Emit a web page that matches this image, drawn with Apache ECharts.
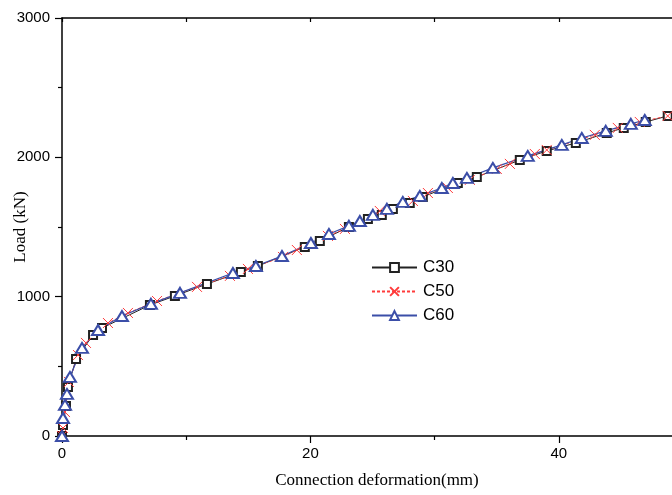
<!DOCTYPE html>
<html>
<head>
<meta charset="utf-8">
<script src="https://cdn.jsdelivr.net/npm/echarts@6/dist/echarts.min.js"></script>
<style>
  html, body { margin: 0; padding: 0; background: #fff; }
  #chart { width: 672px; height: 495px; }
</style>
</head>
<body>
<div id="chart"></div>
<script>
// Load–slip curves of the connection for three concrete grades
const seriesNames = ['C30', 'C50', 'C60'];

// [deformation (mm), load (kN)]
const c30 = [
  [0, 0], [0.08, 79], [0.32, 215], [0.48, 352], [1.13, 553], [2.5, 725], [3.22, 775],
  [7.08, 940], [9.09, 1005], [11.67, 1091], [14.4, 1177], [15.77, 1220], [19.55, 1357],
  [20.76, 1400], [23.1, 1500], [24.63, 1558], [25.75, 1586], [26.64, 1630], [28.0, 1673],
  [29.05, 1716], [31.87, 1816], [33.4, 1859], [36.86, 1981], [39.03, 2046], [41.37, 2103],
  [43.86, 2175], [45.23, 2211], [47.0, 2254], [48.77, 2297]
];
const c50 = [
  [0, 0], [0.08, 57], [0.24, 172], [0.56, 388], [1.29, 581], [1.93, 668], [3.7, 811],
  [5.31, 883], [7.65, 969], [10.87, 1070], [13.52, 1149], [14.97, 1199], [17.79, 1285],
  [18.91, 1335], [21.41, 1436], [22.78, 1486], [25.59, 1615], [28.25, 1687], [29.46, 1744],
  [31.07, 1780], [32.84, 1838], [35.01, 1917], [36.06, 1953], [38.07, 2024], [39.03, 2053],
  [42.9, 2161], [44.75, 2211], [46.52, 2254], [48.77, 2297]
];
const c60 = [
  [0, 0], [0.08, 129], [0.24, 223], [0.4, 302], [0.64, 424], [1.61, 632], [2.9, 761],
  [4.83, 861], [7.16, 948], [9.5, 1027], [13.76, 1170], [15.61, 1220], [17.71, 1292],
  [20.04, 1385], [21.49, 1450], [23.1, 1508], [23.98, 1543], [25.03, 1587], [26.16, 1630],
  [27.44, 1680], [28.81, 1723], [30.58, 1780], [31.47, 1816], [32.6, 1852], [34.69, 1924],
  [37.5, 2010], [40.24, 2089], [41.85, 2139], [43.78, 2190], [45.8, 2240], [46.92, 2268]
];

const xTitle = 'Connection deformation(mm)';
const yTitle = 'Load (kN)';

const sans = 'Liberation Sans, Arial, sans-serif';
const serif = 'Liberation Serif, Times New Roman, serif';
const crossPath = 'path://M0,0L10,10M10,0L0,10';
const plain = v => String(v);

const chart = echarts.init(document.getElementById('chart'), null, { renderer: 'canvas' });

chart.setOption({
  animation: false,
  backgroundColor: '#fff',
  grid: { left: 62, top: 18, bottom: 59, right: -11, containLabel: false, outerBoundsMode: 'none' },
  legend: {
    orient: 'vertical',
    left: 366,
    top: 254,
    itemWidth: 45,
    itemHeight: 11,
    itemGap: 7,
    textStyle: { fontFamily: sans, fontSize: 17, color: '#000', padding: [0, 0, 0, 1] },
    data: seriesNames
  },
  xAxis: [
    {
      type: 'value', position: 'bottom', min: 0, max: 50, interval: 20,
      name: xTitle, nameLocation: 'middle', nameGap: 36, nameMoveOverlap: false,
      nameTextStyle: { fontFamily: serif, fontSize: 17, color: '#000', padding: [0, 0, 0, 9] },
      axisLine: { show: true, lineStyle: { color: '#000', width: 1.5 } },
      axisTick: { show: true, inside: false, length: 7, lineStyle: { color: '#000', width: 1.2 } },
      minorTick: { show: true, splitNumber: 2, length: 4, lineStyle: { color: '#000', width: 1.2 } },
      axisLabel: { fontFamily: sans, fontSize: 15, color: '#000', margin: 10, showMaxLabel: false, formatter: plain },
      splitLine: { show: false }
    },
    {
      type: 'value', position: 'top', min: 0, max: 50, interval: 20,
      axisLine: { show: true, onZero: false, lineStyle: { color: '#000', width: 1.5 } },
      axisTick: { show: true, inside: true, length: 4, lineStyle: { color: '#000', width: 1.2 } },
      minorTick: { show: true, splitNumber: 2, length: 4, lineStyle: { color: '#000', width: 1.2 } },
      axisLabel: { show: false },
      splitLine: { show: false }
    }
  ],
  yAxis: {
    type: 'value', min: 0, max: 3000, interval: 1000,
    name: yTitle, nameLocation: 'middle', nameGap: 33, nameMoveOverlap: false,
    nameTextStyle: { fontFamily: serif, fontSize: 17, color: '#000' },
    axisLine: { show: true, lineStyle: { color: '#000', width: 1.5 } },
    axisTick: { show: true, inside: false, length: 7, lineStyle: { color: '#000', width: 1.2 } },
    minorTick: { show: true, splitNumber: 2, length: 4, lineStyle: { color: '#000', width: 1.2 } },
    axisLabel: { fontFamily: sans, fontSize: 15, color: '#000', margin: 12, formatter: plain },
    splitLine: { show: false }
  },
  series: [
    {
      name: 'C30', type: 'line', data: c30, xAxisIndex: 0,
      symbol: 'emptyRect', symbolSize: 8,
      lineStyle: { color: '#222', width: 1 },
      itemStyle: { color: '#222', borderColor: '#222', borderWidth: 1.1 }
    },
    {
      name: 'C50', type: 'line', data: c50, xAxisIndex: 0,
      symbol: crossPath, symbolSize: 10,
      lineStyle: { color: '#ff3b3b', width: 1, type: [3, 2] },
      itemStyle: { color: 'none', borderColor: '#ff3b3b', borderWidth: 1 }
    },
    {
      name: 'C60', type: 'line', data: c60, xAxisIndex: 0,
      symbol: 'emptyTriangle', symbolSize: [12, 10],
      lineStyle: { color: '#3b4ea8', width: 1.2 },
      itemStyle: { color: '#3b4ea8', borderColor: '#3b4ea8', borderWidth: 1.1 }
    }
  ]
});
</script>
</body>
</html>
